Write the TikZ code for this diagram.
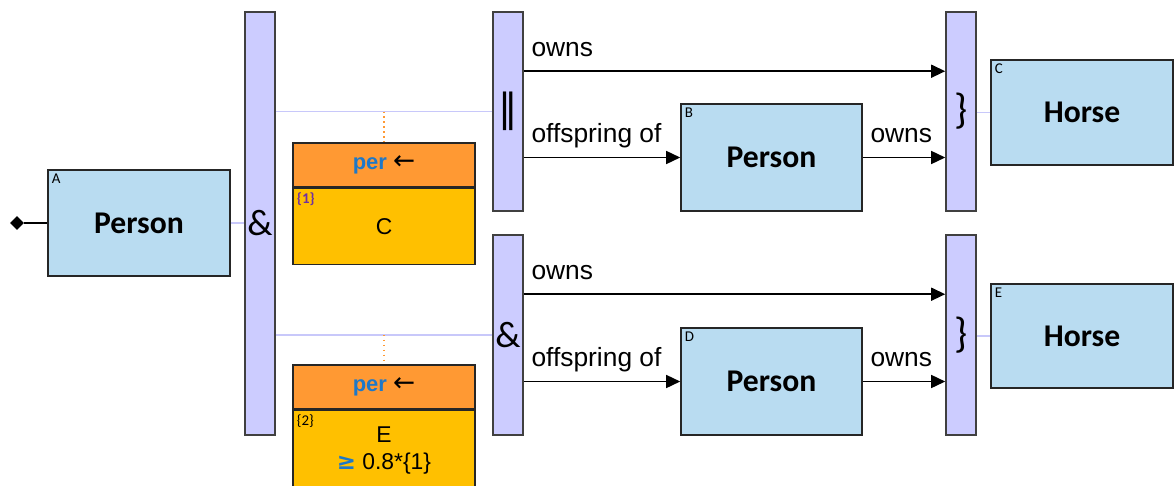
\documentclass[tikz,border=0pt]{standalone}
\usepackage{fontspec}
\setmainfont{Liberation Sans}
\newfontfamily\carlito{Carlito}
\newfontfamily\dejavu{DejaVu Sans}
\definecolor{BarFill}{RGB}{204,204,255}
\definecolor{EntityFill}{RGB}{185,220,241}
\definecolor{HeadOrange}{RGB}{255,153,51}
\definecolor{BodyGold}{RGB}{255,192,0}
\definecolor{LinkLav}{RGB}{200,200,250}
\definecolor{PerBlue}{RGB}{30,120,200}
\definecolor{TagPurple}{RGB}{112,48,160}
\usetikzlibrary{arrows.meta,positioning,shapes.geometric}
\tikzset{
  entity/.style={draw=black!85, fill=EntityFill, line width=0.9pt, minimum width=3.64cm,
    minimum height=2.12cm, inner sep=0pt, font=\carlito\bfseries\fontsize{18}{20}\selectfont},
  opbar/.style={draw=black!75, fill=BarFill, line width=0.9pt, minimum width=0.6cm,
    inner sep=0pt, font=\carlito\fontsize{21}{23}\selectfont},
  tag/.style={anchor=north west, inner sep=2.5pt, font=\carlito\fontsize{8.5}{9}\selectfont},
  perhead/.style={draw=black!85, fill=HeadOrange, line width=0.9pt, minimum width=3.64cm,
    minimum height=0.88cm, inner sep=0pt, font=\fontsize{12.5}{14}\selectfont},
  perbody/.style={draw=black!85, fill=BodyGold, line width=0.9pt, minimum width=3.64cm,
    inner sep=0pt, align=center, font=\fontsize{13}{15}\selectfont},
  link/.style={LinkLav, line width=0.7pt},
  flow/.style={-{Triangle[length=0.28cm,width=0.26cm]}, line width=0.85pt},
  lbl/.style={anchor=base west, xshift=0.14cm, yshift=0.3cm, inner sep=0pt,
    font=\fontsize{15}{17}\selectfont},
}
\begin{document}
\begin{tikzpicture}
\clip (0,0) rectangle (23.5,-9.7);
% root entity
\node[entity] (A) at (2.78,-4.46) {Person};
\node[tag] (tagA) at (A.north west) {A};
\node[diamond, fill=black, inner sep=0pt, minimum width=0.28cm, minimum height=0.28cm] (root) at (0.34,-4.46) {};
\draw[line width=0.9pt] (root) -- (A.west);
% operator bars
\node[opbar, minimum height=8.46cm] (and1) at (5.2,-4.47) {\&};
\node[opbar, minimum height=3.98cm] (par) at (10.16,-2.23) {{\dejavu\fontsize{22}{24}\selectfont ‖}};
\node[opbar, minimum height=4.0cm] (and2) at (10.16,-6.70) {\&};
\node[opbar, minimum height=3.98cm, font=\carlito\fontsize{24}{26}\selectfont] (brace1) at (19.22,-2.23) {\}};
\node[opbar, minimum height=4.0cm, font=\carlito\fontsize{24}{26}\selectfont] (brace2) at (19.22,-6.70) {\}};
\draw[link] (A.east) -- (and1.west |- A.east);
\draw[link] (and1.east |- par.west) -- (par.west);
\draw[link] (and1.east |- and2.west) -- (and2.west);
% per blocks
\node[perhead] (hdC) at (7.68,-3.30) {\textcolor{PerBlue}{\bfseries per} {\dejavu\fontsize{15}{16}\selectfont ←}};
\node[perbody, minimum height=1.52cm, below=0pt of hdC] (bdC) {C};
\node[tag, font=\carlito\bfseries\fontsize{8.5}{9}\selectfont, text=TagPurple] (tagC) at (bdC.north west) {\{1\}};
\node[perhead] (hdE) at (7.68,-7.74) {\textcolor{PerBlue}{\bfseries per} {\dejavu\fontsize{15}{16}\selectfont ←}};
\node[perbody, minimum height=1.6cm, below=0pt of hdE] (bdE) {E\\{\dejavu\bfseries\textcolor{PerBlue}{≥}} 0.8*\{1\}};
\node[tag] (tagE) at (bdE.north west) {\{2\}};
\draw[dotted, HeadOrange, line width=0.8pt] (hdC.north |- par.west) -- (hdC.north);
\draw[dotted, HeadOrange, line width=0.8pt] (hdE.north |- and2.west) -- (hdE.north);
% upper branch
\node[entity, minimum width=3.62cm, minimum height=2.14cm] (B) at (15.43,-3.15) {Person};
\node[tag] (tagB) at (B.north west) {B};
\node[entity, minimum height=2.1cm] (H1) at (21.64,-2.25) {Horse};
\node[tag] (tagH1) at (H1.north west) {C};
\draw[flow] ([yshift=-1.2cm]par.north east) -- ([yshift=-1.2cm]brace1.north west) node[lbl, pos=0] {owns};
\draw[flow] (par.east |- B.west) -- (B.west) node[lbl, pos=0] {offspring of};
\draw[flow] (B.east) -- (brace1.west |- B.east) node[lbl, pos=0] {owns};
\draw[link] (brace1.east |- H1.west) -- (H1.west);
% lower branch
\node[entity, minimum width=3.62cm, minimum height=2.14cm] (D) at (15.43,-7.63) {Person};
\node[tag] (tagD) at (D.north west) {D};
\node[entity, minimum height=2.08cm] (H2) at (21.64,-6.72) {Horse};
\node[tag] (tagH2) at (H2.north west) {E};
\draw[flow] ([yshift=-1.2cm]and2.north east) -- ([yshift=-1.2cm]brace2.north west) node[lbl, pos=0] {owns};
\draw[flow] (and2.east |- D.west) -- (D.west) node[lbl, pos=0] {offspring of};
\draw[flow] (D.east) -- (brace2.west |- D.east) node[lbl, pos=0] {owns};
\draw[link] (brace2.east |- H2.west) -- (H2.west);
\end{tikzpicture}
\end{document}
